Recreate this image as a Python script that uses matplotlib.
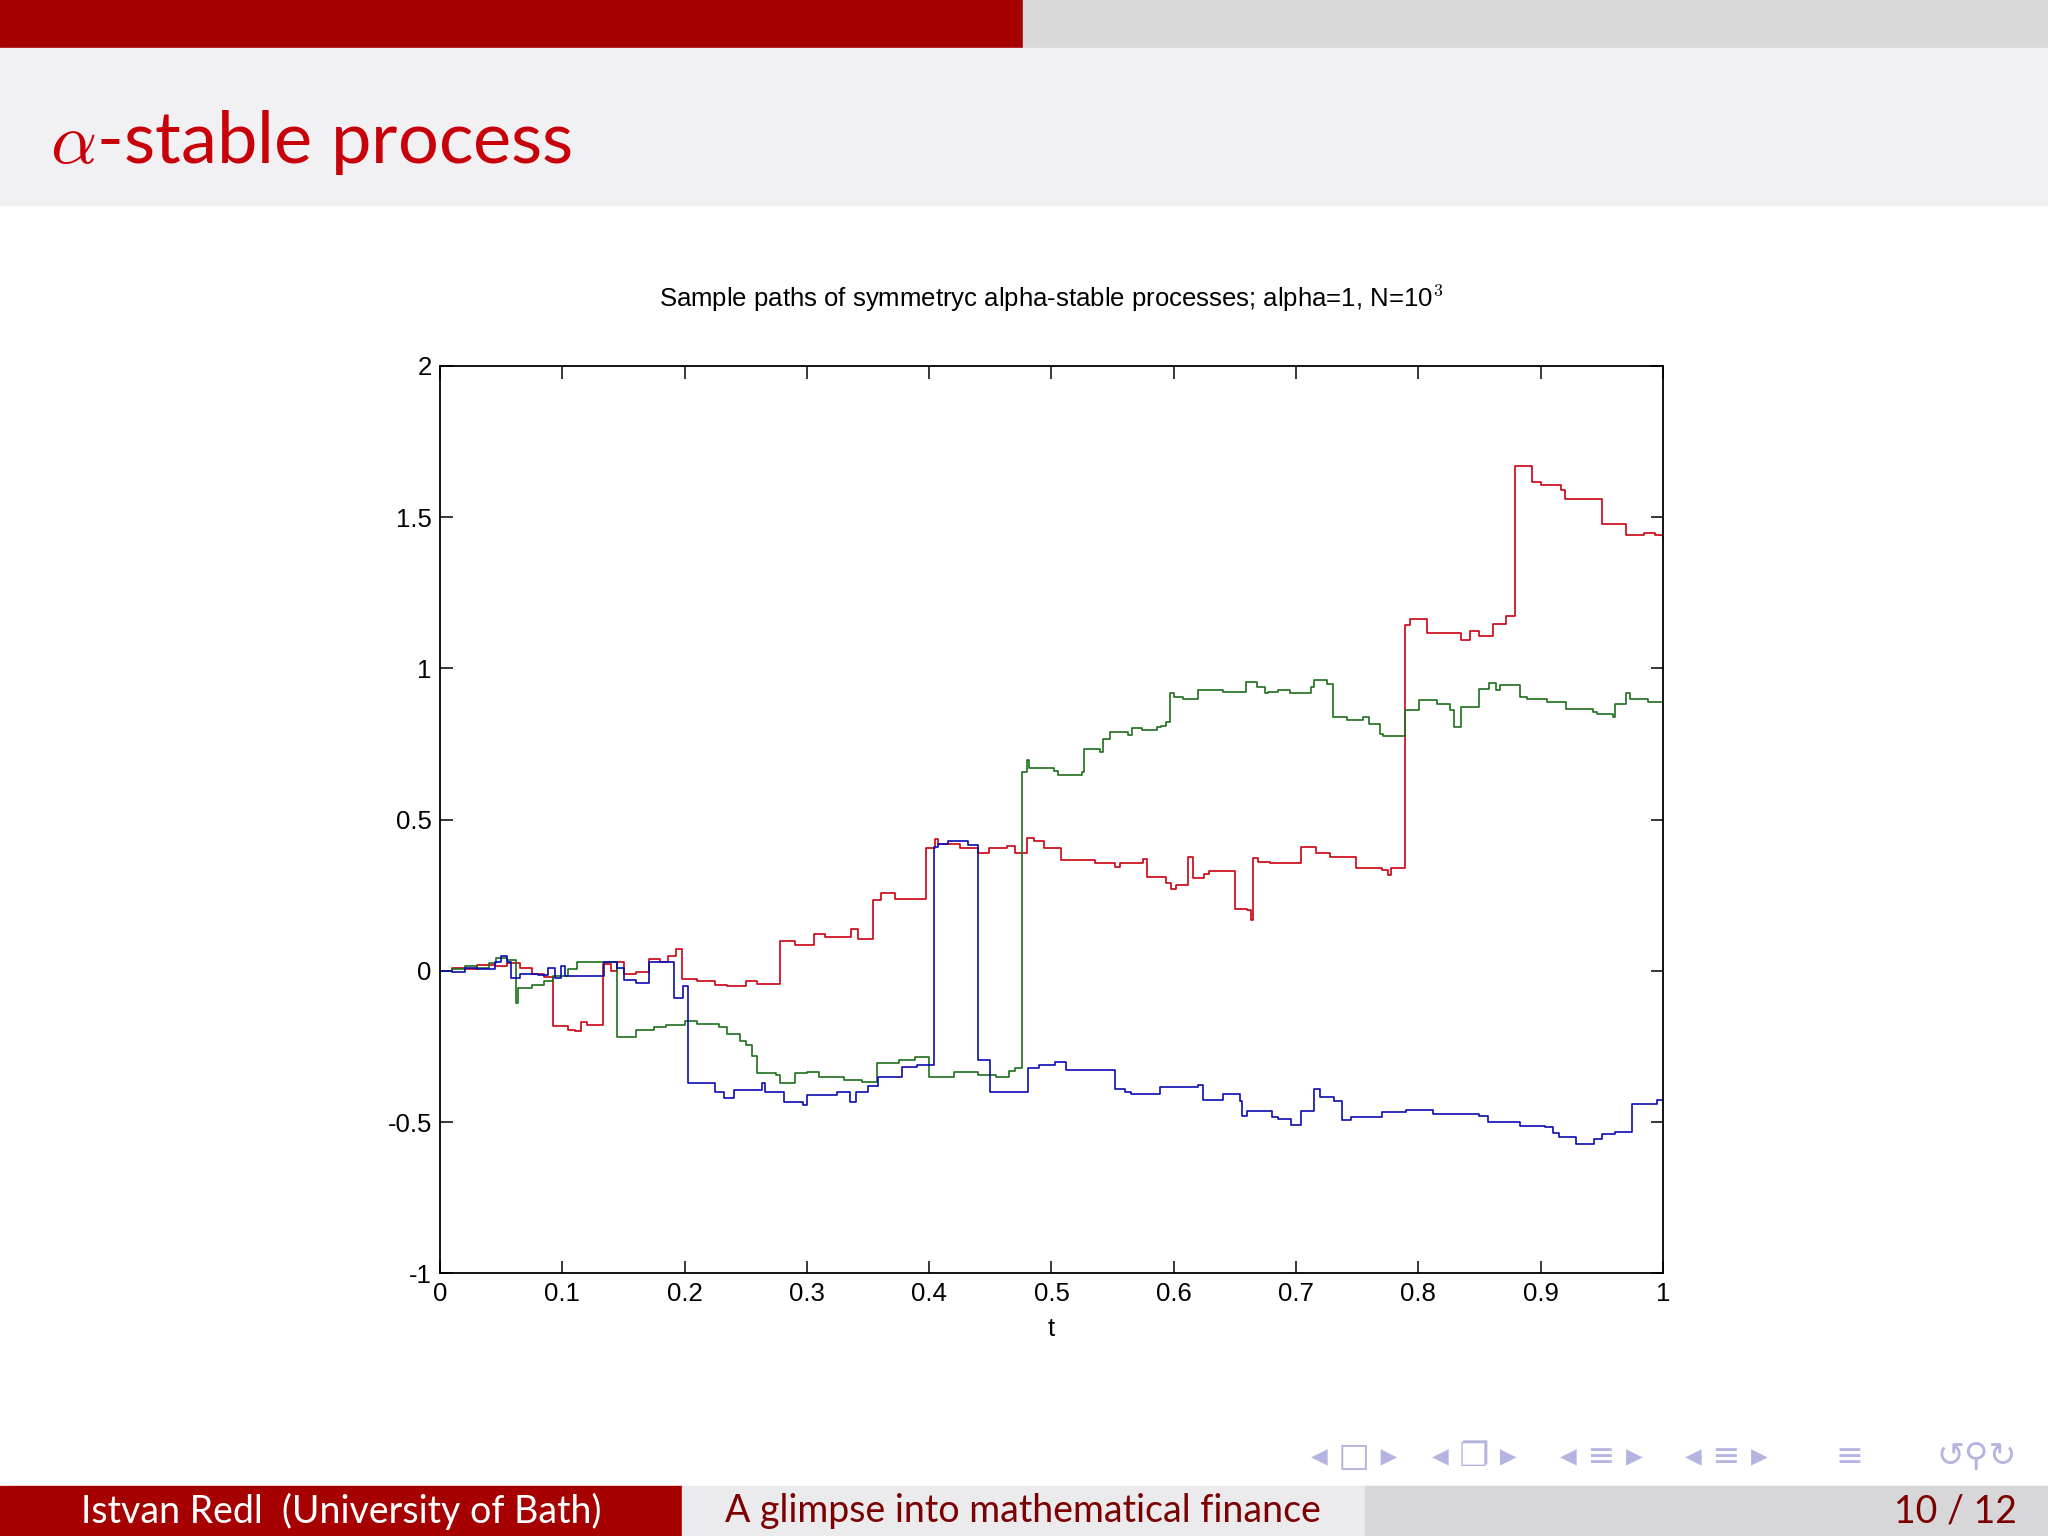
import matplotlib
matplotlib.use('Agg')
import matplotlib.pyplot as plt
from matplotlib.patches import Rectangle

plt.rcParams['mathtext.fontset'] = 'cm'

# sample paths (breakpoints of step functions)
red_t = [0.000, 0.010, 0.020, 0.030, 0.045, 0.055, 0.065, 0.075, 0.085, 0.092,
         0.105, 0.110, 0.115, 0.120, 0.133, 0.140, 0.145, 0.150, 0.160, 0.171,
         0.180, 0.186, 0.193, 0.198, 0.210, 0.225, 0.235, 0.250, 0.259, 0.278,
         0.290, 0.306, 0.315, 0.336, 0.342, 0.354, 0.361, 0.372, 0.397, 0.405,
         0.407, 0.425, 0.440, 0.449, 0.464, 0.470, 0.480, 0.486, 0.494, 0.508,
         0.536, 0.552, 0.556, 0.575, 0.578, 0.594, 0.598, 0.602, 0.612, 0.616,
         0.625, 0.629, 0.650, 0.660, 0.663, 0.665, 0.669, 0.679, 0.704, 0.716,
         0.728, 0.749, 0.770, 0.775, 0.778, 0.789, 0.793, 0.807, 0.835, 0.842,
         0.850, 0.861, 0.872, 0.879, 0.893, 0.900, 0.917, 0.920, 0.950, 0.970,
         0.985, 0.994, 1.000]
red_y = [0.000, 0.010, 0.005, 0.020, 0.015, 0.025, 0.010, -0.010, -0.020, -0.181,
         -0.195, -0.200, -0.170, -0.180, 0.022, 0.000, 0.030, -0.010, -0.005, 0.040,
         0.030, 0.050, 0.072, -0.028, -0.035, -0.045, -0.050, -0.033, -0.044, 0.100,
         0.085, 0.122, 0.111, 0.139, 0.106, 0.233, 0.259, 0.239, 0.406, 0.437,
         0.418, 0.406, 0.389, 0.406, 0.414, 0.389, 0.439, 0.430, 0.406, 0.367,
         0.356, 0.344, 0.356, 0.370, 0.311, 0.289, 0.272, 0.283, 0.378, 0.306,
         0.320, 0.330, 0.206, 0.200, 0.167, 0.372, 0.361, 0.356, 0.411, 0.389,
         0.378, 0.339, 0.333, 0.317, 0.339, 1.144, 1.163, 1.117, 1.092, 1.122,
         1.106, 1.148, 1.172, 1.668, 1.617, 1.606, 1.590, 1.560, 1.478, 1.439,
         1.448, 1.439, 1.435]

green_t = [0.000, 0.010, 0.020, 0.030, 0.040, 0.046, 0.055, 0.062, 0.064, 0.075,
           0.085, 0.092, 0.105, 0.112, 0.145, 0.160, 0.175, 0.185, 0.200, 0.210,
           0.228, 0.235, 0.245, 0.250, 0.255, 0.259, 0.275, 0.278, 0.290, 0.300,
           0.310, 0.330, 0.345, 0.357, 0.375, 0.388, 0.400, 0.420, 0.440, 0.455,
           0.465, 0.470, 0.476, 0.480, 0.482, 0.502, 0.505, 0.525, 0.527, 0.540,
           0.542, 0.548, 0.563, 0.566, 0.574, 0.586, 0.590, 0.594, 0.597, 0.600,
           0.608, 0.620, 0.640, 0.659, 0.668, 0.675, 0.677, 0.685, 0.695, 0.712,
           0.715, 0.725, 0.730, 0.742, 0.755, 0.760, 0.769, 0.771, 0.789, 0.801,
           0.815, 0.826, 0.829, 0.835, 0.850, 0.858, 0.864, 0.867, 0.883, 0.889,
           0.905, 0.921, 0.943, 0.946, 0.959, 0.961, 0.970, 0.973, 0.988, 1.000]
green_y = [0.000, 0.005, 0.015, 0.010, 0.025, 0.044, 0.035, -0.106, -0.056, -0.045,
           -0.033, -0.017, 0.006, 0.028, -0.217, -0.194, -0.185, -0.178, -0.167, -0.175,
           -0.185, -0.210, -0.230, -0.245, -0.280, -0.339, -0.344, -0.372, -0.339, -0.333,
           -0.350, -0.360, -0.367, -0.306, -0.294, -0.283, -0.350, -0.335, -0.345, -0.350,
           -0.330, -0.320, 0.656, 0.697, 0.672, 0.661, 0.648, 0.656, 0.733, 0.722,
           0.767, 0.789, 0.778, 0.803, 0.797, 0.806, 0.811, 0.822, 0.917, 0.906,
           0.900, 0.928, 0.922, 0.956, 0.939, 0.917, 0.922, 0.928, 0.917, 0.939,
           0.961, 0.948, 0.839, 0.830, 0.839, 0.817, 0.783, 0.776, 0.861, 0.894,
           0.883, 0.861, 0.806, 0.872, 0.933, 0.950, 0.928, 0.944, 0.906, 0.900,
           0.889, 0.867, 0.855, 0.850, 0.839, 0.883, 0.917, 0.900, 0.889, 0.885]

blue_t = [0.000, 0.010, 0.020, 0.030, 0.045, 0.050, 0.055, 0.058, 0.065, 0.080,
          0.088, 0.094, 0.099, 0.102, 0.134, 0.145, 0.150, 0.160, 0.171, 0.191,
          0.199, 0.203, 0.225, 0.232, 0.240, 0.263, 0.266, 0.281, 0.297, 0.300,
          0.325, 0.335, 0.340, 0.350, 0.358, 0.378, 0.390, 0.404, 0.407, 0.415,
          0.432, 0.440, 0.450, 0.481, 0.490, 0.503, 0.512, 0.552, 0.560, 0.565,
          0.589, 0.620, 0.624, 0.640, 0.654, 0.656, 0.660, 0.680, 0.685, 0.696,
          0.704, 0.715, 0.720, 0.731, 0.738, 0.745, 0.770, 0.790, 0.812, 0.850,
          0.857, 0.883, 0.904, 0.910, 0.915, 0.929, 0.944, 0.950, 0.961, 0.975,
          0.995, 1.000]
blue_y = [0.000, -0.005, 0.010, 0.005, 0.030, 0.048, 0.030, -0.022, -0.010, -0.015,
          0.011, -0.022, 0.017, -0.017, 0.028, 0.010, -0.030, -0.040, 0.028, -0.089,
          -0.050, -0.372, -0.400, -0.420, -0.394, -0.372, -0.400, -0.433, -0.444, -0.410,
          -0.400, -0.433, -0.400, -0.380, -0.350, -0.317, -0.310, 0.411, 0.419, 0.430,
          0.417, -0.294, -0.400, -0.322, -0.310, -0.300, -0.328, -0.389, -0.400, -0.406,
          -0.384, -0.378, -0.428, -0.406, -0.430, -0.478, -0.463, -0.483, -0.489, -0.508,
          -0.463, -0.389, -0.417, -0.430, -0.494, -0.483, -0.467, -0.459, -0.472, -0.478,
          -0.500, -0.511, -0.517, -0.535, -0.550, -0.572, -0.555, -0.540, -0.533, -0.439,
          -0.428, -0.428]

x_ticks = [0, 0.1, 0.2, 0.3, 0.4, 0.5, 0.6, 0.7, 0.8, 0.9, 1]
x_labels = ['0', '0.1', '0.2', '0.3', '0.4', '0.5', '0.6', '0.7', '0.8', '0.9', '1']
y_ticks = [-1, -0.5, 0, 0.5, 1, 1.5, 2]
y_labels = ['-1', '-0.5', '0', '0.5', '1', '1.5', '2']

# beamer navigation bar: glyph groups and their x centres (figure fraction)
nav_groups = ['\u25c2 \u25a1 \u25b8', '\u25c2 \u2750 \u25b8', '\u25c2 \u2261 \u25b8',
              '\u25c2 \u2261 \u25b8', '\u2261', '\u21ba\u26b2\u21bb']
nav_x = [0.661, 0.720, 0.782, 0.843, 0.903, 0.965]

beamer_red = '#a60000'
title_red = '#c8000a'
nav_col = '#b4b4e0'
tick_font = ['Liberation Sans Narrow', 'Liberation Sans', 'DejaVu Sans']

fig = plt.figure(figsize=(20.48, 15.36), dpi=100)
fig.patch.set_facecolor('white')

# beamer frame decorations
fig.patches.append(Rectangle((0, 0.9685), 0.4994, 0.0315, transform=fig.transFigure, color=beamer_red, zorder=0))
fig.patches.append(Rectangle((0.4994, 0.9685), 0.5006, 0.0315, transform=fig.transFigure, color='#d9d9d9', zorder=0))
fig.patches.append(Rectangle((0, 0.8665), 1, 0.102, transform=fig.transFigure, color='#f1f0f2', zorder=0))
fig.text(0.0242, 0.8937, r'$\alpha$-stable process', color=title_red, fontsize=52,
         family='Lato', ha='left', va='baseline')

fig.patches.append(Rectangle((0, 0), 0.3329, 0.0323, transform=fig.transFigure, color=beamer_red, zorder=0))
fig.patches.append(Rectangle((0.3329, 0), 0.3336, 0.0323, transform=fig.transFigure, color='#ebebee', zorder=0))
fig.patches.append(Rectangle((0.6665, 0), 0.3335, 0.0323, transform=fig.transFigure, color='#d7d7d9', zorder=0))
fig.text(0.1665, 0.0162, 'Istvan Redl  (University of Bath)', color='white', fontsize=27,
         family='Lato', ha='center', va='center')
fig.text(0.4997, 0.0162, 'A glimpse into mathematical finance', color='#7d0000', fontsize=27,
         family='Lato', ha='center', va='center')
fig.text(0.985, 0.0162, '10 / 12', color='#7d0000', fontsize=27,
         family='Lato', ha='right', va='center')

for g, gx in zip(nav_groups, nav_x):
    fig.text(gx, 0.052, g, color=nav_col, fontsize=24, family=['DejaVu Sans', 'Noto Sans'],
             ha='center', va='center')

# the MATLAB figure
ax = fig.add_axes([0.2149, 0.1709, 0.5970, 0.5910])
ax.plot(red_t, red_y, drawstyle='steps-post', color='#cc0010', lw=1.2)
ax.plot(green_t, green_y, drawstyle='steps-post', color='#1d6e1d', lw=1.2)
ax.plot(blue_t, blue_y, drawstyle='steps-post', color='#0a0ab4', lw=1.2)

ax.set_xlim(0, 1)
ax.set_ylim(-1, 2)
ax.set_xticks(x_ticks)
ax.set_xticklabels(x_labels, family=tick_font, fontsize=18.5)
ax.set_yticks(y_ticks)
ax.set_yticklabels(y_labels, family=tick_font, fontsize=18.5)
ax.tick_params(direction='in', length=9, width=1.1, top=True, right=True, pad=6, colors='black')
for s in ax.spines.values():
    s.set_linewidth(1.3)
ax.set_xlabel('t', family=tick_font, fontsize=18.5, labelpad=8)
ax.set_title('Sample paths of symmetryc alpha-stable processes; alpha=1, N=10$^3$',
             family=tick_font, fontsize=18.5, pad=42)

fig.savefig('out.png', dpi=100)
